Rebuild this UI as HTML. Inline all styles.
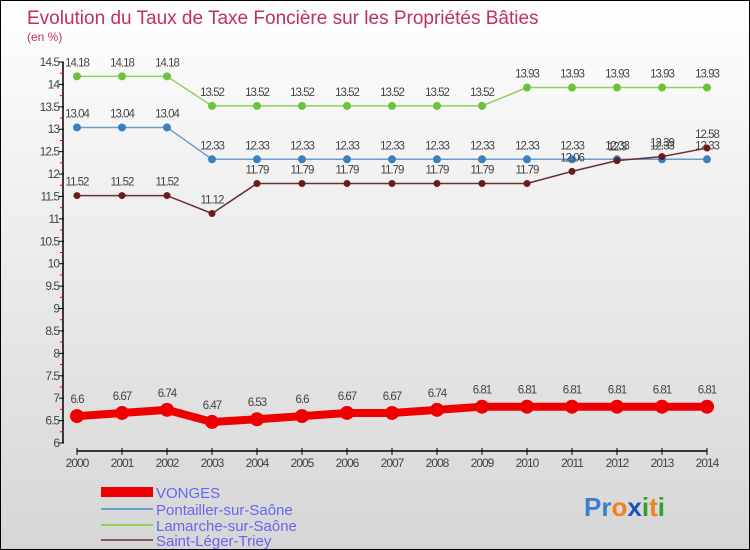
<!DOCTYPE html>
<html><head><meta charset="utf-8"><style>
body{margin:0}
#c{width:750px;height:550px;position:relative;overflow:hidden;background:linear-gradient(#ffffff,#f4f4f4 25%,#d6d6d6);box-sizing:border-box;border:1px solid #000;font-family:"Liberation Sans",sans-serif}
svg text{font-family:"Liberation Sans",sans-serif}
</style></head><body>
<div id="c">
<svg id="s" width="750" height="550">
<text x="26" y="23" font-size="19" fill="#c0305c">Evolution du Taux de Taxe Foncière sur les Propriétés Bâties</text>
<text x="26" y="40" font-size="12" fill="#c0305c">(en %)</text>
<g id="axes"></g><g id="series"></g>
<g>
<rect x="100" y="486" width="52" height="10" fill="#e00"/>
<text x="155" y="497" font-size="15" fill="#6666ee">VONGES</text>
<rect x="100" y="507" width="52" height="2" fill="#6a9ed0"/>
<text x="155" y="514" font-size="15" fill="#6666ee">Pontailler-sur-Saône</text>
<rect x="100" y="523" width="52" height="2" fill="#8fd060"/>
<text x="155" y="530" font-size="15" fill="#6666ee">Lamarche-sur-Saône</text>
<rect x="100" y="538" width="52" height="2" fill="#8a5a5a"/>
<text x="155" y="545" font-size="15" fill="#6666ee">Saint-Léger-Triey</text>
</g>
<text x="583" y="515" font-size="26" font-weight="bold"><tspan fill="#3a7fd0">Pr</tspan><tspan fill="#f08020">o</tspan><tspan fill="#2050c0">x</tspan><tspan fill="#30a030">i</tspan><tspan fill="#f08020">t</tspan><tspan fill="#30a030">i</tspan></text>
</svg></div>
<script>
const years=[2000,2001,2002,2003,2004,2005,2006,2007,2008,2009,2010,2011,2012,2013,2014];
const yTicks=[6,6.5,7,7.5,8,8.5,9,9.5,10,10.5,11,11.5,12,12.5,13,13.5,14,14.5];
const vonges=[6.6,6.67,6.74,6.47,6.53,6.6,6.67,6.67,6.74,6.81,6.81,6.81,6.81,6.81,6.81];
const pontailler=[13.04,13.04,13.04,12.33,12.33,12.33,12.33,12.33,12.33,12.33,12.33,12.33,12.33,12.33,12.33];
const lamarche=[14.18,14.18,14.18,13.52,13.52,13.52,13.52,13.52,13.52,13.52,13.93,13.93,13.93,13.93,13.93];
const saintLeger=[11.52,11.52,11.52,11.12,11.79,11.79,11.79,11.79,11.79,11.79,11.79,12.06,12.3,12.39,12.58];
const NS="http://www.w3.org/2000/svg";
const X=y=>76+(y-2000)*45;
const Y=v=>442-(v-6)*(381/8.5);
function mk(t,a,p){const e=document.createElementNS(NS,t);for(const k in a)e.setAttribute(k,a[k]);p.appendChild(e);return e;}
const ax=document.getElementById('axes');
let yl=mk('line',{x1:62,y1:61,x2:62,y2:442,stroke:'#000','stroke-width':1.5},ax);


yTicks.forEach(v=>{
 const t=mk('line',{x1:58,x2:63,y1:Y(v),y2:Y(v),stroke:'#000'},ax);
 
 
 const r=mk('line',{x1:59,x2:62,y1:Y(v+0.25),y2:Y(v+0.25),stroke:v<14.5?'#e00':'none'},ax);
 
 
 const l=mk('text',{x:58,y:Y(v)+4,'text-anchor':'end','font-size':12,fill:'#444','letter-spacing':'-1'},ax);
 l.textContent=String(v);
 
 
});
let xl=mk('line',{x1:X(2000),y1:450,x2:X(2014),y2:450,stroke:'#000','stroke-width':1.5},ax);


years.forEach(y=>{
 const t=mk('line',{x1:X(y),x2:X(y),y1:447,y2:454,stroke:'#000'},ax);
 
 
 const l=mk('text',{x:X(y),y:466,'text-anchor':'middle','font-size':12,fill:'#444','letter-spacing':'-1'},ax);
 l.textContent=String(y);
 
 
});
const sg=document.getElementById('series');
function draw(vals,name,color,dot,w,r,labOff){
 const g=mk('g',{},sg);
 
 
 const pl=mk('polyline',{points:vals.map((v,i)=>X(years[i])+','+Y(v)).join(' '),fill:'none',stroke:color,'stroke-width':w},g);
 
 
 vals.forEach((v,i)=>{
  const c=mk('circle',{cx:X(years[i]),cy:Y(v),r:r,fill:dot},g);
  
  
  const t=mk('text',{x:X(years[i]),y:Y(v)-labOff,'text-anchor':'middle','font-size':11.5,fill:'#444','letter-spacing':'-1'},g);
  t.textContent=String(v);
  
  
 });
}
draw(lamarche,'lamarche','#8fd060','#6cc23a',1.5,4,10);
draw(pontailler,'pontailler','#6a9ed0','#3a80c0',1.5,4,10);
draw(saintLeger,'saint-leger','#6a3030','#6a1a1a',1.5,3.5,10);
draw(vonges,'vonges','#e00','#e00',8,7,13);
</script>
</body></html>
